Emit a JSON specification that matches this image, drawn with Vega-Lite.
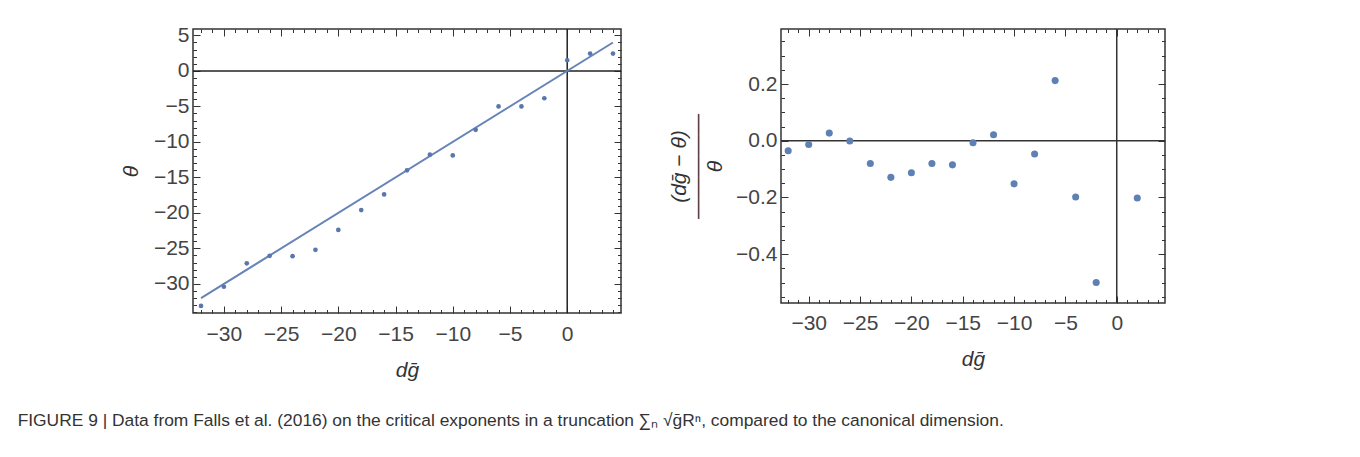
{
  "$schema": "https://vega.github.io/schema/vega-lite/v6.json",
  "background": "white",
  "padding": {"left": 17, "top": 23, "right": 10, "bottom": 10},
  "datasets": {
    "left": [
      {"d": -32, "theta": -33.1}, {"d": -30, "theta": -30.4}, {"d": -28, "theta": -27.1},
      {"d": -26, "theta": -26.05}, {"d": -24, "theta": -26.1}, {"d": -22, "theta": -25.2},
      {"d": -20, "theta": -22.4}, {"d": -18, "theta": -19.6}, {"d": -16, "theta": -17.4},
      {"d": -14, "theta": -14.0}, {"d": -12, "theta": -11.8}, {"d": -10, "theta": -11.9},
      {"d": -8, "theta": -8.3}, {"d": -6, "theta": -5.0}, {"d": -4, "theta": -5.0},
      {"d": -2, "theta": -3.85}, {"d": 0, "theta": 1.5}, {"d": 2, "theta": 2.44}, {"d": 4, "theta": 2.44}
    ],
    "fit": [{"d": -32, "theta": -32}, {"d": 4, "theta": 4}],
    "right": [
      {"d": -32, "r": -0.035}, {"d": -30, "r": -0.013}, {"d": -28, "r": 0.027},
      {"d": -26, "r": -0.001}, {"d": -24, "r": -0.080}, {"d": -22, "r": -0.129},
      {"d": -20, "r": -0.113}, {"d": -18, "r": -0.080}, {"d": -16, "r": -0.085},
      {"d": -14, "r": -0.007}, {"d": -12, "r": 0.021}, {"d": -10, "r": -0.152},
      {"d": -8, "r": -0.047}, {"d": -6, "r": 0.212}, {"d": -4, "r": -0.198},
      {"d": -2, "r": -0.500}, {"d": 2, "r": -0.202}
    ],
    "zero": [{"z": 0}]
  },
  "title": {
    "text": "FIGURE 9 | Data from Falls et al. (2016) on the critical exponents in a truncation ∑ₙ √ḡRⁿ, compared to the canonical dimension.",
    "orient": "bottom",
    "anchor": "start",
    "frame": "bounds",
    "dx": -102,
    "offset": 31,
    "font": "Liberation Sans",
    "fontSize": 17.4,
    "fontWeight": "normal",
    "color": "#333333"
  },
  "config": {
    "view": {"stroke": "#333333", "strokeWidth": 1.5},
    "axis": {
      "domain": false,
      "grid": false,
      "labelFont": "Liberation Sans",
      "labelFontSize": 21,
      "labelColor": "#444444",
      "labelOverlap": false,
      "labelFlush": false,
      "tickColor": "#333333",
      "tickWidth": 1,
      "titleFont": "Liberation Sans",
      "titleFontSize": 21,
      "titleFontStyle": "italic",
      "titleFontWeight": "normal",
      "titleColor": "#333333"
    }
  },
  "hconcat": [
    {
      "width": 428,
      "height": 284,
      "layer": [
        {
          "data": {"name": "zero"},
          "mark": {"type": "rule", "color": "#222222", "strokeWidth": 1.5},
          "encoding": {"x": {"field": "z", "type": "quantitative", "scale": {"domain": [-32.7, 4.7], "nice": false, "zero": false}, "axis": null}}
        },
        {
          "data": {"name": "zero"},
          "mark": {"type": "rule", "color": "#222222", "strokeWidth": 1.5},
          "encoding": {"y": {"field": "z", "type": "quantitative", "scale": {"domain": [-34.1, 5.9], "nice": false, "zero": false}, "axis": null}}
        },
        {
          "data": {"name": "fit"},
          "mark": {"type": "line", "color": "#6784b8", "strokeWidth": 2},
          "encoding": {
            "x": {"field": "d", "type": "quantitative", "scale": {"domain": [-32.7, 4.7], "nice": false, "zero": false},
              "axis": {"orient": "top", "values": [-32,-31,-30,-29,-28,-27,-26,-25,-24,-23,-22,-21,-20,-19,-18,-17,-16,-15,-14,-13,-12,-11,-10,-9,-8,-7,-6,-5,-4,-3,-2,-1,0,1,2,3,4],
                "labels": false, "title": null,
                "tickSize": {"condition": {"test": "datum.value % 5 === 0", "value": -7}, "value": -3.5}}},
            "y": {"field": "theta", "type": "quantitative", "scale": {"domain": [-34.1, 5.9], "nice": false, "zero": false},
              "axis": {"orient": "right", "values": [-34,-33,-32,-31,-30,-29,-28,-27,-26,-25,-24,-23,-22,-21,-20,-19,-18,-17,-16,-15,-14,-13,-12,-11,-10,-9,-8,-7,-6,-5,-4,-3,-2,-1,0,1,2,3,4,5],
                "labels": false, "title": null,
                "tickSize": {"condition": {"test": "datum.value % 5 === 0", "value": -7}, "value": -3.5}}}
          }
        },
        {
          "data": {"name": "left"},
          "mark": {"type": "point", "filled": true, "size": 22, "color": "#5a77ad", "opacity": 1},
          "encoding": {
            "x": {"field": "d", "type": "quantitative", "scale": {"domain": [-32.7, 4.7], "nice": false, "zero": false},
              "axis": {"orient": "bottom", "values": [-32,-31,-30,-29,-28,-27,-26,-25,-24,-23,-22,-21,-20,-19,-18,-17,-16,-15,-14,-13,-12,-11,-10,-9,-8,-7,-6,-5,-4,-3,-2,-1,0,1,2,3,4],
                "labelExpr": "datum.value % 5 === 0 ? datum.label : ''",
                "labelPadding": 17,
                "tickSize": {"condition": {"test": "datum.value % 5 === 0", "value": -7}, "value": -3.5},
                "title": "dḡ", "titlePadding": 12}},
            "y": {"field": "theta", "type": "quantitative", "scale": {"domain": [-34.1, 5.9], "nice": false, "zero": false},
              "axis": {"orient": "left", "values": [-34,-33,-32,-31,-30,-29,-28,-27,-26,-25,-24,-23,-22,-21,-20,-19,-18,-17,-16,-15,-14,-13,-12,-11,-10,-9,-8,-7,-6,-5,-4,-3,-2,-1,0,1,2,3,4,5],
                "labelExpr": "datum.value % 5 === 0 ? datum.label : ''",
                "labelPadding": 11,
                "tickSize": {"condition": {"test": "datum.value % 5 === 0", "value": -7}, "value": -3.5},
                "title": "θ", "titlePadding": 12}}
          }
        }
      ],
      "resolve": {"axis": {"x": "independent", "y": "independent"}}
    },
    {
      "width": 384,
      "height": 274,
      "layer": [
        {
          "data": {"name": "zero"},
          "mark": {"type": "rule", "color": "#333333", "strokeWidth": 1.5},
          "encoding": {"x": {"field": "z", "type": "quantitative", "scale": {"domain": [-32.7, 4.7], "nice": false, "zero": false}, "axis": null}}
        },
        {
          "data": {"name": "zero"},
          "mark": {"type": "rule", "color": "#333333", "strokeWidth": 1.5},
          "encoding": {"y": {"field": "z", "type": "quantitative", "scale": {"domain": [-0.572, 0.394], "nice": false, "zero": false}, "axis": null}}
        },
        {
          "data": {"name": "right"},
          "mark": {"type": "point", "filled": true, "size": 10, "opacity": 0},
          "encoding": {
            "x": {"field": "d", "type": "quantitative", "scale": {"domain": [-32.7, 4.7], "nice": false, "zero": false},
              "axis": {"orient": "top", "values": [-32,-31,-30,-29,-28,-27,-26,-25,-24,-23,-22,-21,-20,-19,-18,-17,-16,-15,-14,-13,-12,-11,-10,-9,-8,-7,-6,-5,-4,-3,-2,-1,0,1,2,3,4],
                "labels": false, "title": null,
                "tickSize": {"condition": {"test": "datum.value % 5 === 0", "value": -7}, "value": -3.5}}},
            "y": {"field": "r", "type": "quantitative", "scale": {"domain": [-0.572, 0.394], "nice": false, "zero": false},
              "axis": {"orient": "right", "values": [-0.55,-0.5,-0.45,-0.4,-0.35,-0.3,-0.25,-0.2,-0.15,-0.1,-0.05,0,0.05,0.1,0.15,0.2,0.25,0.3,0.35],
                "labels": false, "title": null,
                "tickSize": {"condition": {"test": "round(datum.value * 100) % 20 === 0", "value": -7}, "value": -3.5}}}
          }
        },
        {
          "data": {"name": "right"},
          "mark": {"type": "point", "filled": true, "size": 50, "color": "#5E81B5", "opacity": 1},
          "encoding": {
            "x": {"field": "d", "type": "quantitative", "scale": {"domain": [-32.7, 4.7], "nice": false, "zero": false},
              "axis": {"orient": "bottom", "values": [-32,-31,-30,-29,-28,-27,-26,-25,-24,-23,-22,-21,-20,-19,-18,-17,-16,-15,-14,-13,-12,-11,-10,-9,-8,-7,-6,-5,-4,-3,-2,-1,0,1,2,3,4],
                "labelExpr": "datum.value % 5 === 0 ? datum.label : ''",
                "labelPadding": 16,
                "tickSize": {"condition": {"test": "datum.value % 5 === 0", "value": -7}, "value": -3.5},
                "title": "dḡ", "titlePadding": 12}},
            "y": {"field": "r", "type": "quantitative", "scale": {"domain": [-0.572, 0.394], "nice": false, "zero": false},
              "axis": {"orient": "left", "values": [-0.55,-0.5,-0.45,-0.4,-0.35,-0.3,-0.25,-0.2,-0.15,-0.1,-0.05,0,0.05,0.1,0.15,0.2,0.25,0.3,0.35],
                "format": ".1f",
                "labelExpr": "round(datum.value * 100) % 20 === 0 ? datum.label : ''",
                "labelPadding": 11,
                "tickSize": {"condition": {"test": "round(datum.value * 100) % 20 === 0", "value": -7}, "value": -3.5},
                "title": ["(dḡ − θ)", "―――――", "θ"], "titleLineHeight": 18, "titlePadding": 10}}
          }
        }
      ],
      "resolve": {"axis": {"x": "independent", "y": "independent"}}
    }
  ],
  "spacing": 44
}
